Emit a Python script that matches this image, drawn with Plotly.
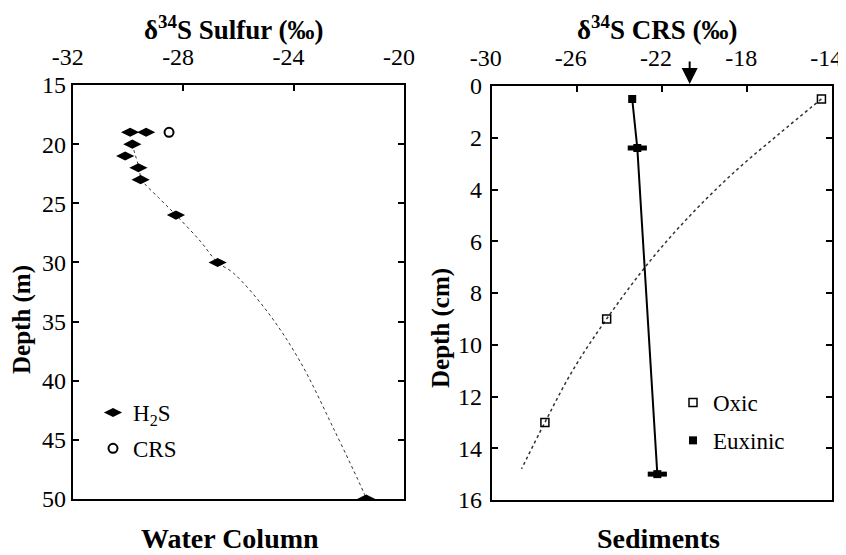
import plotly.graph_objects as go

W, H = 846, 555
OFF = 8  # page body margin offset (px)

# ---- Water column data (left panel) ----
h2s_d34s = [-29.92, -29.34, -29.84, -30.1, -29.62, -29.54, -28.26, -26.75, -21.37]
h2s_depth = [19, 19, 20, 21, 22, 23, 26, 30, 50]
crs_wc_d34s = [-28.51]
crs_wc_depth = [19]
wc_fit_x = [-29.85, -29.6, -29.5, -28.9, -28.26, -27.38, -26.75, -26.18, -24.97, -23.77, -22.56, -21.47, -21.37]
wc_fit_depth = [20, 22, 23, 24.5, 26, 28.2, 30, 30.9, 34.1, 38.35, 44.0, 49.4, 50]

# ---- Sediment data (right panel) ----
oxic_d34s = [-14.51, -24.6, -27.5]
oxic_depth = [0.5, 9, 13]
oxic_fit_x = [-14.51, -16.5, -18.5, -20.5, -22.5, -24.6, -26.2, -27.5, -28.6]
oxic_fit_depth = [0.5, 1.85, 3.25, 4.85, 6.7, 9.0, 11.0, 13.0, 14.8]
eux_d34s = [-23.4, -23.16, -22.22]
eux_depth = [0.5, 2.4, 15]
eux_err = [0, 0.45, 0.45]
arrow_x = -20.7

left_ticks = [-32, -28, -24, -20]
left_ticktext = ["-32", "-28", "-24", "-20"]
right_ticks = [-30, -26, -22, -18, -14]
right_ticktext = ["-30", "-26", "-22", "-18", "-14"]
wc_depth_ticks = [15, 20, 25, 30, 35, 40, 45, 50]
sed_depth_ticks = [0, 2, 4, 6, 8, 10, 12, 14, 16]

FONT = "'Liberation Serif', 'Times New Roman', Times, serif"

def px(x):
    return (x - OFF) / W

def py(y):
    return 1 - (y - OFF) / H

fig = go.Figure()

fig.add_trace(go.Scatter(x=wc_fit_x, y=wc_fit_depth, mode="lines", line=dict(color="#333", width=1, dash="dot", shape="spline"),
                         showlegend=False, xaxis="x", yaxis="y"))
fig.add_trace(go.Scatter(x=h2s_d34s, y=h2s_depth, mode="markers", name="H<sub>2</sub>S",
                         marker=dict(symbol="diamond-wide", size=13, color="black"),
                         legend="legend", legendgroup="a", xaxis="x", yaxis="y"))
fig.add_trace(go.Scatter(x=crs_wc_d34s, y=crs_wc_depth, mode="markers", name="CRS",
                         marker=dict(symbol="circle-open", size=9, color="black", line=dict(width=2)),
                         legend="legend", legendgroup="b", xaxis="x", yaxis="y"))

fig.add_trace(go.Scatter(x=oxic_fit_x, y=oxic_fit_depth, mode="lines", line=dict(color="#333", width=1.5, dash="dot", shape="spline"),
                         showlegend=False, xaxis="x2", yaxis="y2"))
fig.add_trace(go.Scatter(x=eux_d34s, y=eux_depth, mode="lines", line=dict(color="black", width=2),
                         showlegend=False, xaxis="x2", yaxis="y2"))
fig.add_trace(go.Scatter(x=oxic_d34s, y=oxic_depth, mode="markers", name="Oxic",
                         marker=dict(symbol="square-open", size=8, color="black", line=dict(width=1.5)),
                         legend="legend2", legendgroup="c", xaxis="x2", yaxis="y2"))
fig.add_trace(go.Scatter(x=eux_d34s, y=eux_depth, mode="markers", name="Euxinic",
                         marker=dict(symbol="square", size=8, color="black"),
                         error_x=dict(type="data", array=eux_err, color="black", thickness=5, width=0),
                         legend="legend2", legendgroup="d", xaxis="x2", yaxis="y2"))

axis_common = dict(showgrid=False, zeroline=False, showline=True, linecolor="black", linewidth=2,
                   ticks="inside", ticklen=6, tickwidth=1.5, tickcolor="black", automargin=False,
                   ticklabeloverflow="allow",
                   tickfont=dict(family=FONT, size=24, color="black"))

fig.update_layout(
    width=W, height=H, margin=dict(l=0, r=0, t=0, b=0),
    paper_bgcolor="white", plot_bgcolor="white",
    font=dict(family=FONT, color="black"),
    xaxis=dict(domain=[px(72.7), px(404)], range=[-32, -20], side="top", tickvals=left_ticks,
               ticktext=left_ticktext, ticklabelshift=-5,
               mirror=True, anchor="y", ticklabelstandoff=8, **axis_common),
    yaxis=dict(domain=[py(499), py(85)], range=[50, 15], tickvals=wc_depth_ticks,
               mirror="ticks", anchor="x", ticklabelstandoff=0, **axis_common),
    xaxis2=dict(domain=[px(491.7), px(832.3)], range=[-30, -14], side="top", tickvals=right_ticks,
                ticktext=right_ticktext, ticklabelshift=-6,
                mirror=True, anchor="y2", ticklabelstandoff=8, **axis_common),
    yaxis2=dict(domain=[py(500), py(86)], range=[16, 0], tickvals=sed_depth_ticks,
                mirror="ticks", anchor="x2", ticklabelstandoff=3, **axis_common),
    legend=dict(x=px(93), y=py(391), xanchor="left", yanchor="top", bgcolor="rgba(0,0,0,0)",
                font=dict(family=FONT, size=23, color="black"), tracegroupgap=3, itemclick=False),
    legend2=dict(x=px(673), y=py(381), xanchor="left", yanchor="top", bgcolor="rgba(0,0,0,0)",
                 font=dict(family=FONT, size=23, color="black"), tracegroupgap=5, itemclick=False),
)

annos = [
    dict(text="<b>δ<sup>34</sup>S Sulfur (‰)</b>", x=px(233), y=py(28), size=27, angle=0),
    dict(text="<b>δ<sup>34</sup>S CRS (‰)</b>", x=px(657), y=py(28), size=27, angle=0),
    dict(text="<b>Water Column</b>", x=px(230), y=py(538), size=28, angle=0),
    dict(text="<b>Sediments</b>", x=px(658), y=py(538), size=28, angle=0),
    dict(text="<b>Depth (m)</b>", x=px(22), y=py(320), size=25, angle=-90),
    dict(text="<b>Depth (cm)</b>", x=px(441), y=py(328), size=25, angle=-90),
]
for a in annos:
    fig.add_annotation(text=a["text"], x=a["x"], y=a["y"], xref="paper", yref="paper",
                       xanchor="center", yanchor="middle", showarrow=False, textangle=a["angle"],
                       font=dict(family=FONT, size=a["size"], color="black"))

fig.add_annotation(x=arrow_x, y=py(84), xref="x2", yref="paper", ax=0, ay=-24, text="",
                   showarrow=True, arrowhead=2, arrowsize=1.6, arrowwidth=2, arrowcolor="black")

fig.write_html("out.html")
